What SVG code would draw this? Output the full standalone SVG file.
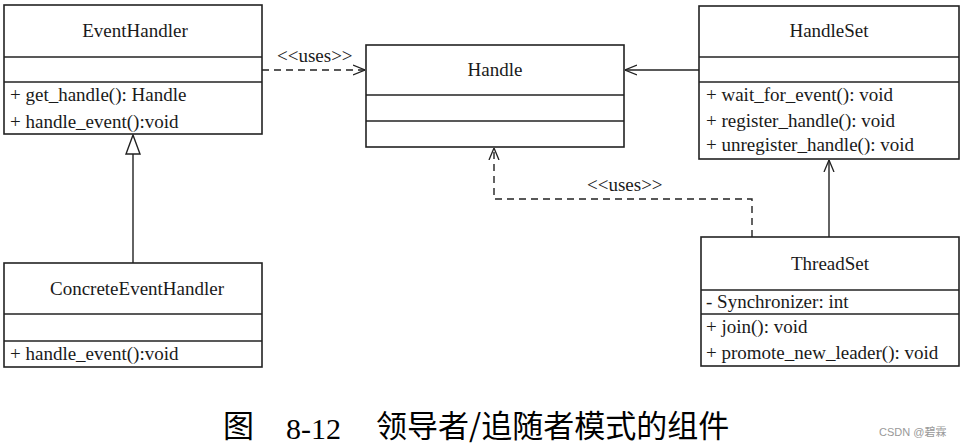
<svg xmlns="http://www.w3.org/2000/svg" width="962" height="447" viewBox="0 0 962 447">
<style>
.box{fill:#fff;stroke:#222;stroke-width:1.6}
.div{stroke:#222;stroke-width:1.3}
.t{font-family:"Liberation Serif","Times New Roman",serif;font-size:19px;fill:#1a1a1a}
.c{text-anchor:middle}
.ln{fill:none;stroke:#222;stroke-width:1.4}
.dash{stroke-dasharray:7 5}
.cap{font-family:"Noto Sans CJK SC",sans-serif;font-size:31px;fill:#000}
.capn{font-family:"Liberation Serif",serif;font-size:30px;fill:#000}
</style>
<defs>
<marker id="open" viewBox="0 0 12 12" refX="12" refY="6" markerWidth="12" markerHeight="12" markerUnits="userSpaceOnUse" orient="auto">
<path d="M0,1 L12,6 L0,11" fill="none" stroke="#222" stroke-width="1.3"/>
</marker>
</defs>
<g id="connectors">
<line class="ln dash" x1="262" y1="70" x2="365" y2="70" marker-end="url(#open)"/>
<text class="t" x="277" y="62">&lt;&lt;uses&gt;&gt;</text>
<line class="ln" x1="699" y1="70" x2="625" y2="70" marker-end="url(#open)"/>
<polyline class="ln dash" points="752,237 752,199 494,199 494,148" marker-end="url(#open)"/>
<text class="t" x="587" y="191">&lt;&lt;uses&gt;&gt;</text>
<line class="ln" x1="829" y1="237" x2="829" y2="160" marker-end="url(#open)"/>
<line class="ln" x1="133" y1="263" x2="133" y2="154"/>
<polygon points="133,135 126,154 140,154" fill="#fff" stroke="#222" stroke-width="1.4"/>
</g>
<g id="EventHandler">
<rect class="box" x="4" y="5" width="258" height="129"/>
<line class="div" x1="4" y1="57" x2="262" y2="57"/>
<line class="div" x1="4" y1="82" x2="262" y2="82"/>
<text class="t c" x="135" y="37">EventHandler</text>
<text class="t" x="10" y="101">+ get_handle(): Handle</text>
<text class="t" x="10" y="128">+ handle_event():void</text>
</g>
<g id="Handle">
<rect class="box" x="366" y="45" width="258" height="102"/>
<line class="div" x1="366" y1="95" x2="624" y2="95"/>
<line class="div" x1="366" y1="121" x2="624" y2="121"/>
<text class="t c" x="495" y="76">Handle</text>
</g>
<g id="HandleSet">
<rect class="box" x="699" y="6" width="260" height="153"/>
<line class="div" x1="699" y1="57" x2="959" y2="57"/>
<line class="div" x1="699" y1="82" x2="959" y2="82"/>
<text class="t c" x="829" y="37">HandleSet</text>
<text class="t" x="706" y="101">+ wait_for_event(): void</text>
<text class="t" x="706" y="127">+ register_handle(): void</text>
<text class="t" x="706" y="151">+ unregister_handle(): void</text>
</g>
<g id="ThreadSet">
<rect class="box" x="701" y="237" width="258" height="129"/>
<line class="div" x1="701" y1="290" x2="959" y2="290"/>
<line class="div" x1="701" y1="314" x2="959" y2="314"/>
<text class="t c" x="830" y="270">ThreadSet</text>
<text class="t" x="706" y="308">- Synchronizer: int</text>
<text class="t" x="706" y="333">+ join(): void</text>
<text class="t" x="706" y="359">+ promote_new_leader(): void</text>
</g>
<g id="ConcreteEventHandler">
<rect class="box" x="4" y="263" width="258" height="104"/>
<line class="div" x1="4" y1="314" x2="262" y2="314"/>
<line class="div" x1="4" y1="341" x2="262" y2="341"/>
<text class="t c" x="137" y="295">ConcreteEventHandler</text>
<text class="t" x="10" y="360">+ handle_event():void</text>
</g>
<g id="caption">
<text class="cap" x="223" y="437">图</text>
<text class="capn" x="286" y="439">8-12</text>
<text class="cap" x="376" y="437">领导者/追随者模式的组件</text>
<text x="879" y="436" font-family="'Liberation Sans','Noto Sans CJK SC',sans-serif" font-size="11" fill="#999">CSDN @碧霖</text>
</g>
</svg>
